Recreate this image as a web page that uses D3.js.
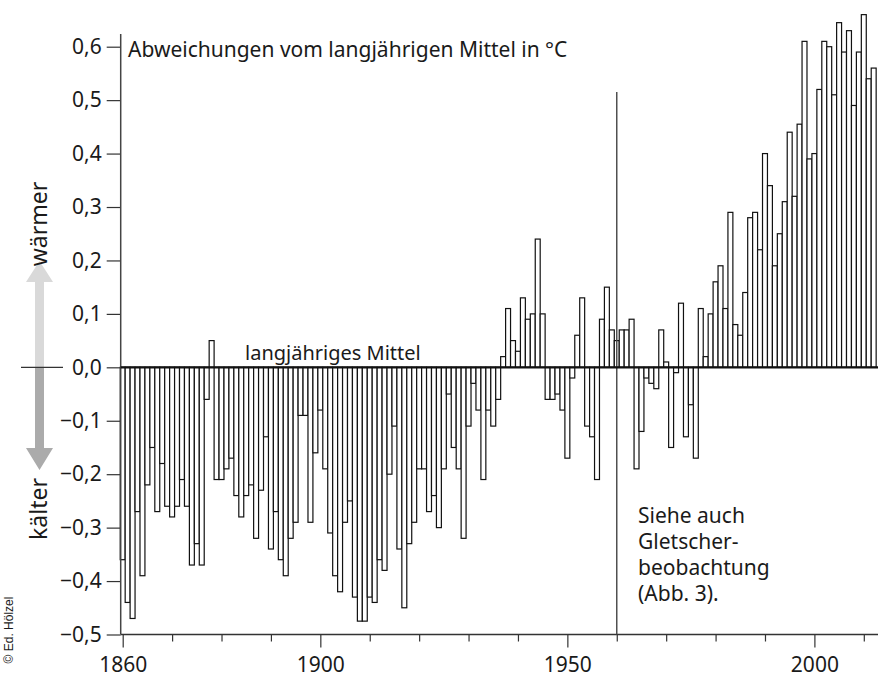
<!DOCTYPE html>
<html>
<head>
<meta charset="utf-8">
<script src="https://cdn.jsdelivr.net/npm/d3@7"></script>
<style>
  body { margin: 0; background: #fff; }
  text { font-family: "Noto Sans", sans-serif; fill: #1a1a1a; }
</style>
</head>
<body>
<script>
// Data: anomalies in °C, one value per year from 1860 to 2012
var firstYear = 1860;
var anomalies = [
  -0.36, -0.44, -0.47, -0.27, -0.39, -0.22, -0.15, -0.27, -0.18, -0.26, // 1860
  -0.28, -0.26, -0.21, -0.26, -0.37, -0.33, -0.37, -0.06,  0.05, -0.21, // 1870
  -0.21, -0.19, -0.17, -0.24, -0.28, -0.24, -0.22, -0.32, -0.23, -0.13, // 1880
  -0.34, -0.27, -0.36, -0.39, -0.32, -0.29, -0.09, -0.09, -0.29, -0.16, // 1890
  -0.08, -0.19, -0.31, -0.39, -0.42, -0.29, -0.25, -0.43, -0.475, -0.475, // 1900
  -0.43, -0.44, -0.36, -0.38, -0.20, -0.11, -0.34, -0.45, -0.33, -0.29, // 1910
  -0.19, -0.19, -0.27, -0.24, -0.30, -0.19, -0.05, -0.15, -0.19, -0.32, // 1920
  -0.11, -0.03, -0.08, -0.21, -0.08, -0.11, -0.06,  0.02,  0.11,  0.05, // 1930
   0.03,  0.13,  0.09,  0.10,  0.24,  0.10, -0.06, -0.06, -0.05, -0.08, // 1940
  -0.17, -0.02,  0.06,  0.13, -0.11, -0.13, -0.21,  0.09,  0.15,  0.07, // 1950
   0.05,  0.07,  0.07,  0.09, -0.19, -0.12, -0.02, -0.03, -0.04,  0.07, // 1960
   0.01, -0.15, -0.01,  0.12, -0.13, -0.07, -0.17,  0.11,  0.02,  0.10, // 1970
   0.16,  0.19,  0.11,  0.29,  0.08,  0.06,  0.14,  0.28,  0.29,  0.22, // 1980
   0.40,  0.34,  0.19,  0.25,  0.31,  0.44,  0.32,  0.455, 0.61,  0.39, // 1990
   0.40,  0.52,  0.61,  0.60,  0.51,  0.645, 0.59,  0.63,  0.49,  0.59, // 2000
   0.66,  0.54,  0.56                                                   // 2010
];
var years = d3.range(firstYear, firstYear + anomalies.length);

var yTicks = [0.6, 0.5, 0.4, 0.3, 0.2, 0.1, 0, -0.1, -0.2, -0.3, -0.4, -0.5];
var decades = d3.range(1860, 2011, 10);
var labelYears = [1860, 1900, 1950, 2000];
var markYear = 1960;

var width = 878, height = 677;

var svg = d3.select("body").append("svg")
    .attr("width", width)
    .attr("height", height);

var x = d3.scaleLinear().domain([1860, 2010]).range([122.7, 863.8]);
var y = d3.scaleLinear().domain([-0.5, 0.6]).range([634.5, 46.7]);
var barW = x(1861) - x(1860);

// bars
svg.append("g")
    .selectAll("rect")
    .data(years)
    .enter().append("rect")
    .attr("x", function (d) { return x(d) - barW / 2; })
    .attr("width", barW)
    .attr("y", function (d, i) { return y(Math.max(0, anomalies[i])); })
    .attr("height", function (d, i) { return Math.abs(y(anomalies[i]) - y(0)); })
    .style("fill", "#fff")
    .style("stroke", "#111")
    .style("stroke-width", 1.2);

// y axis
var yAxis = d3.axisLeft(y)
    .tickValues(yTicks)
    .tickSize(14)
    .tickSizeOuter(0)
    .tickPadding(5)
    .tickFormat(function (d) {
        return d3.format(".1f")(d).replace(".", ",").replace("-", "\u2212");
    });

var gy = svg.append("g")
    .attr("transform", "translate(120.7,0)")
    .call(yAxis);
gy.select(".domain").remove();
gy.selectAll(".tick line").style("stroke", "#333").style("stroke-width", 1.2);
gy.selectAll(".tick text")
    .attr("font-size", 21)
    .attr("font-family", "Noto Sans")
    .style("fill", "#1a1a1a");

svg.append("line")
    .attr("x1", 120.7).attr("x2", 120.7)
    .attr("y1", 34).attr("y2", y(-0.5))
    .style("stroke", "#444").style("stroke-width", 1.5);

// x axis
var xAxis = d3.axisBottom(x)
    .tickValues(decades)
    .tickSize(7)
    .tickSizeOuter(0)
    .tickFormat(function (d) { return labelYears.indexOf(d) >= 0 ? d : ""; });

var gx = svg.append("g")
    .attr("transform", "translate(0," + y(-0.5) + ")")
    .call(xAxis);
gx.select(".domain").remove();
gx.selectAll(".tick line")
    .attr("y2", function (d) { return labelYears.indexOf(d) >= 0 ? 13 : 7; })
    .style("stroke", "#333").style("stroke-width", 1.2);
gx.selectAll(".tick text")
    .attr("y", 37).attr("dy", 0)
    .attr("font-size", 21)
    .attr("font-family", "Noto Sans")
    .style("fill", "#1a1a1a");

svg.append("line")
    .attr("x1", 120.7).attr("x2", width)
    .attr("y1", y(-0.5)).attr("y2", y(-0.5))
    .style("stroke", "#333").style("stroke-width", 1.5);

// vertical marker line at 1960
svg.append("line")
    .attr("x1", x(markYear)).attr("x2", x(markYear))
    .attr("y1", 92).attr("y2", y(-0.5))
    .style("stroke", "#444").style("stroke-width", 1.4);

// zero line
svg.append("line")
    .attr("x1", 120.7).attr("x2", width)
    .attr("y1", y(0)).attr("y2", y(0))
    .style("stroke", "#111").style("stroke-width", 2.2);

// warmer / colder arrow
var ax = 39.5, y0 = y(0);
svg.append("path")
    .attr("d", "M" + (ax - 4.5) + "," + y0 + "V282H26L" + ax + ",261L53,282H" + (ax + 4.5) + "V" + y0 + "Z")
    .style("fill", "#d9d9d9");
svg.append("path")
    .attr("d", "M" + (ax - 4.5) + "," + y0 + "V448H26L" + ax + ",470L53,448H" + (ax + 4.5) + "V" + y0 + "Z")
    .style("fill", "#ababab");
svg.append("line")
    .attr("x1", 21).attr("x2", 63)
    .attr("y1", y0).attr("y2", y0)
    .style("stroke", "#333").style("stroke-width", 1.2);

svg.append("text")
    .attr("transform", "translate(47,224) rotate(-90)")
    .attr("text-anchor", "middle")
    .attr("font-size", 23)
    .text("wärmer");
svg.append("text")
    .attr("transform", "translate(47,509) rotate(-90)")
    .attr("text-anchor", "middle")
    .attr("font-size", 23)
    .text("kälter");
svg.append("text")
    .attr("transform", "translate(13,630) rotate(-90)")
    .attr("text-anchor", "middle")
    .attr("font-size", 12)
    .style("font-family", "Liberation Sans, Arial, sans-serif")
    .text("© Ed. Hölzel");

// titles and notes
svg.append("text")
    .attr("x", 128).attr("y", 57)
    .attr("font-size", 21)
    .text("Abweichungen vom langjährigen Mittel in °C");

svg.append("text")
    .attr("x", 245).attr("y", 360)
    .attr("font-size", 20)
    .text("langjähriges Mittel");

var note = ["Siehe auch", "Gletscher-", "beobachtung", "(Abb. 3)."];
svg.append("text")
    .attr("font-size", 21)
    .selectAll("tspan")
    .data(note)
    .enter().append("tspan")
    .attr("x", 638)
    .attr("y", function (d, i) { return 523 + i * 26; })
    .text(function (d) { return d; });
</script>
</body>
</html>
